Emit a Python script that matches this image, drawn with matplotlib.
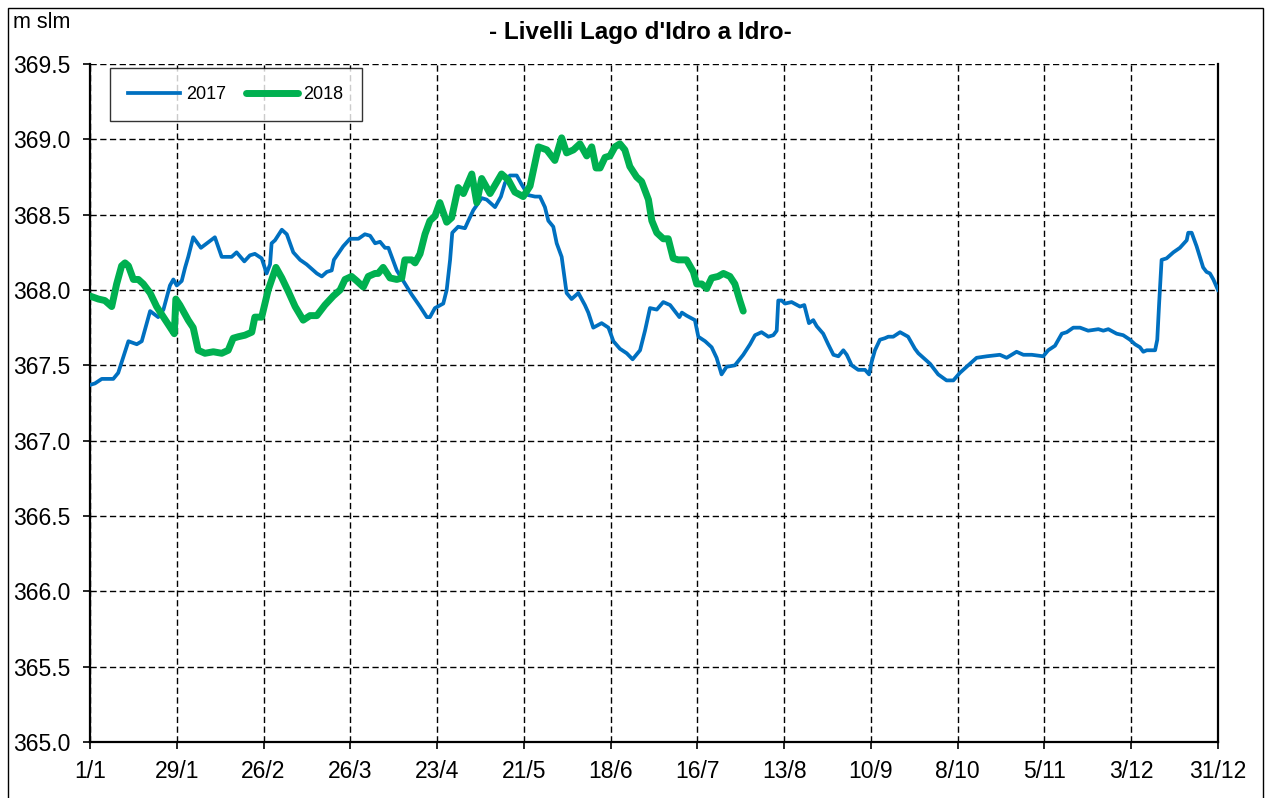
import matplotlib.pyplot as plt
from matplotlib.patches import Rectangle

plt.rcParams['font.family'] = ['Liberation Sans', 'DejaVu Sans']

# Livelli (giorno dell'anno, m slm)
giorni_2017 = [1, 2.6, 4.8, 8.5, 10.1, 13.4, 16.1, 17.7, 20.4, 23.0, 24.7, 26.8, 27.9, 29.0, 30.6,
               31.7, 32.7, 34.3, 36.8, 41.3, 43.5, 46.7, 48.3, 50.8, 52.6, 54.2, 56.4, 58.0, 59.1,
               59.6, 60.7, 62.9, 64.5, 66.6, 68.8, 70.9, 74.2, 75.8, 77.4, 79.0, 79.7, 82.7, 84.9,
               87.6, 89.7, 91.4, 93.0, 94.6, 96.2, 97.3, 100.0, 102.1, 104.8, 107.5, 109.7, 110.7,
               112.3, 115.0, 116.1, 117.2, 117.9, 119.8, 122.0, 123.1, 124.7, 127.4, 129.0, 131.7,
               133.6, 134.9, 136.5, 138.7, 140.3, 142.4, 144.6, 146.2, 147.8, 148.9, 150.5, 151.6,
               153.2, 154.8, 156.4, 158.6, 160.7, 161.8, 163.4, 166.1, 168.3, 169.9, 172.0, 174.2,
               176.1, 178.5, 180.1, 181.7, 183.9, 186.0, 188.2, 191.2, 192.0, 193.5, 196.2, 197.3,
               199.5, 201.6, 203.2, 204.8, 206.4, 209.1, 211.8, 214.0, 215.6, 217.7, 219.9, 221.5,
               222.6, 223.1, 224.2, 225.3, 227.4, 230.1, 231.5, 233.0, 234.4, 235.5, 237.6, 239.2,
               240.9, 242.5, 244.1, 245.2, 246.8, 248.9, 251.1, 252.4, 253.2, 254.3, 255.9, 257.5,
               258.6, 260.2, 262.4, 265.0, 267.2, 268.3, 272.1, 274.7, 277.4, 279.6, 281.7, 284.4,
               287.1, 290.4, 294.6, 296.8, 300.0, 302.2, 304.9, 308.6, 310.2, 312.4, 314.6, 316.2,
               318.3, 320.5, 323.1, 326.4, 328.0, 329.6, 332.3, 334.4, 336.6, 338.2, 339.8, 340.9,
               342.0, 344.7, 345.4, 346.0, 346.8, 348.4, 350.6, 352.7, 354.9, 355.4, 356.5, 358.1,
               360.2, 361.3, 362.4, 363.5, 365]
livello_2017 = [367.37, 367.38, 367.41, 367.41, 367.45, 367.66, 367.64, 367.66, 367.86, 367.82, 367.87,
                368.03, 368.07, 368.03, 368.06, 368.15, 368.22, 368.35, 368.28, 368.35, 368.22, 368.22,
                368.25, 368.19, 368.23, 368.24, 368.21, 368.11, 368.17, 368.31, 368.33, 368.40, 368.37,
                368.25, 368.20, 368.17, 368.11, 368.09, 368.12, 368.13, 368.20, 368.29, 368.34, 368.34,
                368.37, 368.36, 368.31, 368.32, 368.28, 368.28, 368.13, 368.06, 367.97, 367.89, 367.82,
                367.82, 367.88, 367.91, 368.00, 368.20, 368.38, 368.42, 368.41, 368.46, 368.53, 368.61,
                368.60, 368.55, 368.62, 368.71, 368.76, 368.76, 368.70, 368.63, 368.62, 368.62, 368.55,
                368.46, 368.42, 368.31, 368.22, 367.98, 367.94, 367.98, 367.90, 367.85, 367.75, 367.78,
                367.75, 367.66, 367.61, 367.58, 367.54, 367.60, 367.73, 367.88, 367.87, 367.92, 367.90,
                367.82, 367.85, 367.83, 367.80, 367.69, 367.66, 367.62, 367.55, 367.44, 367.49, 367.50,
                367.57, 367.64, 367.70, 367.72, 367.69, 367.70, 367.73, 367.93, 367.93, 367.91, 367.92,
                367.89, 367.90, 367.78, 367.80, 367.76, 367.71, 367.64, 367.57, 367.56, 367.60, 367.57,
                367.50, 367.47, 367.47, 367.44, 367.52, 367.60, 367.67, 367.68, 367.69, 367.69, 367.72,
                367.69, 367.61, 367.58, 367.51, 367.44, 367.40, 367.40, 367.45, 367.50, 367.55, 367.56,
                367.57, 367.55, 367.59, 367.57, 367.57, 367.56, 367.60, 367.63, 367.71, 367.72, 367.75,
                367.75, 367.73, 367.74, 367.73, 367.74, 367.71, 367.70, 367.67, 367.64, 367.62, 367.59,
                367.60, 367.60, 367.67, 367.91, 368.20, 368.21, 368.25, 368.28, 368.33, 368.38, 368.38,
                368.29, 368.15, 368.12, 368.11, 368.07, 368.00]

giorni_2018 = [1, 3.7, 5.8, 8.0, 9.6, 11.2, 12.3, 13.4, 15.0, 16.6, 18.2, 20.4, 22.5, 24.7, 26.3,
               28.2, 28.7, 30.0, 32.7, 34.3, 35.9, 38.1, 40.8, 43.5, 45.6, 47.2, 48.9, 51.0, 53.2,
               54.2, 56.4, 58.5, 61.0, 62.9, 65.0, 67.2, 69.8, 72.0, 74.2, 76.8, 79.5, 81.7, 83.3,
               85.4, 87.1, 89.2, 90.8, 93.0, 94.0, 95.6, 97.8, 100.0, 101.6, 102.6, 104.8, 105.9,
               107.5, 109.1, 110.7, 112.3, 113.9, 116.1, 117.7, 119.8, 121.5, 124.2, 125.8, 127.4,
               130.1, 133.8, 136.0, 138.1, 140.8, 143.0, 145.7, 148.4, 151.0, 153.2, 154.8, 157.0,
               159.1, 161.3, 162.9, 164.3, 165.6, 167.2, 168.8, 170.4, 172.0, 173.6, 175.2, 177.4,
               179.0, 181.2, 182.3, 183.9, 186.0, 187.6, 189.2, 190.8, 193.5, 195.7, 196.8, 198.4,
               200.0, 201.6, 203.7, 205.4, 207.5, 209.1, 210.7, 211.8]
livello_2018 = [367.96, 367.94, 367.93, 367.89, 368.04, 368.16, 368.18, 368.16, 368.07, 368.07, 368.04,
                367.98, 367.89, 367.82, 367.77, 367.71, 367.94, 367.90, 367.80, 367.75, 367.60, 367.58,
                367.59, 367.58, 367.60, 367.68, 367.69, 367.70, 367.72, 367.82, 367.82, 368.00, 368.15,
                368.08, 367.99, 367.89, 367.80, 367.83, 367.83, 367.90, 367.96, 368.00, 368.07, 368.09,
                368.06, 368.02, 368.09, 368.11, 368.11, 368.15, 368.08, 368.07, 368.08, 368.20, 368.20,
                368.18, 368.24, 368.37, 368.46, 368.49, 368.58, 368.45, 368.48, 368.68, 368.64, 368.77,
                368.58, 368.74, 368.64, 368.77, 368.73, 368.65, 368.62, 368.69, 368.95, 368.93, 368.86,
                369.01, 368.91, 368.93, 368.97, 368.89, 368.95, 368.81, 368.81, 368.88, 368.89, 368.95,
                368.97, 368.93, 368.82, 368.75, 368.72, 368.60, 368.46, 368.38, 368.34, 368.34, 368.21,
                368.20, 368.20, 368.12, 368.04, 368.04, 368.01, 368.08, 368.09, 368.11, 368.09, 368.04,
                367.93, 367.86]

tick_giorni = [1, 29, 57, 85, 113, 141, 169, 197, 225, 253, 281, 309, 337, 365]
tick_date = ['1/1', '29/1', '26/2', '26/3', '23/4', '21/5', '18/6', '16/7', '13/8', '10/9',
             '8/10', '5/11', '3/12', '31/12']
tick_livelli = [365.0, 365.5, 366.0, 366.5, 367.0, 367.5, 368.0, 368.5, 369.0, 369.5]

fig = plt.figure(figsize=(12.66, 7.98), dpi=100)
ax = fig.add_axes([90 / 1266, 56 / 798, 1128 / 1266, 678 / 798])

ax.plot(giorni_2017, livello_2017, color='#0070C0', lw=2.7, label='2017', zorder=3)
ax.plot(giorni_2018, livello_2018, color='#00B050', lw=5.0, label='2018', zorder=4,
        solid_joinstyle='round', solid_capstyle='round')

ax.set_xlim(1, 365)
ax.set_ylim(365.0, 369.5)
ax.set_xticks(tick_giorni)
ax.set_xticklabels(tick_date)
ax.set_yticks(tick_livelli)
ax.set_yticklabels(['%.1f' % v for v in tick_livelli])
ax.tick_params(axis='both', direction='out', length=5, width=1.2, labelsize=16.5, colors='black')
ax.tick_params(axis='y', pad=9)
ax.tick_params(axis='x', pad=8)

ax.grid(True, color='black', linestyle=(0, (4.5, 2.5)), linewidth=1.0, zorder=1)
ax.set_axisbelow(True)

for lato in ['left', 'bottom', 'right']:
    ax.spines[lato].set_linewidth(1.6)
    ax.spines[lato].set_color('black')
ax.spines['top'].set_visible(False)

leg = ax.legend(loc='upper left', bbox_to_anchor=(20 / 1128, 674 / 678), borderaxespad=0,
                ncol=2, fontsize=13, frameon=True, fancybox=False, edgecolor='black',
                handlelength=2.9, columnspacing=1.1, handletextpad=0.3, borderpad=1.0)
leg.get_frame().set_linewidth(1.0)

fig.text(640 / 1266, 1 - 32 / 798, "- Livelli Lago d'Idro a Idro-", ha='center', va='center',
         fontsize=17.5, fontweight='bold')
fig.text(13 / 1266, 1 - 22 / 798, 'm slm', ha='left', va='center', fontsize=15.5)

fig.patches.append(Rectangle((8 / 1266, -0.02), 1255 / 1266, 1 - 8 / 798 + 0.02,
                             transform=fig.transFigure, fill=False, edgecolor='black', lw=1))

fig.savefig('out.png', dpi=100)
